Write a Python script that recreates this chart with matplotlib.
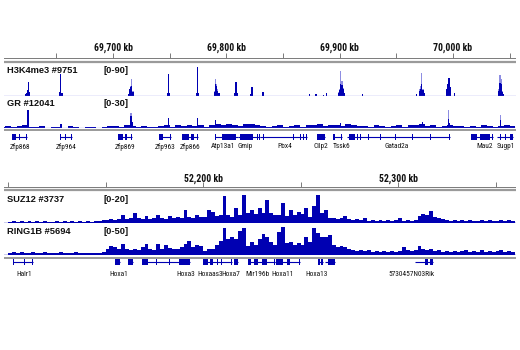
import matplotlib
matplotlib.use("Agg")
import matplotlib.pyplot as plt
from matplotlib import font_manager as fm
from matplotlib.font_manager import FontProperties

FIG_W, FIG_H = 520, 350

DARK = "#0000b2"
LIGHT = "#8e8ee2"
BASE = "#6c6ce6"
GRAY = "#9a9a9a"

SANS = ["Liberation Sans", "DejaVu Sans"]

# ---- top locus: chr (kb) ----
top_xlim = (69603.8, 70055.6)
top_ticks = [69650, 69700, 69750, 69800, 69850, 69900, 69950, 70000, 70050]
top_tick_labels = {69700: "69,700 kb", 69800: "69,800 kb", 69900: "69,900 kb", 70000: "70,000 kb"}

# H3K4me3 #9751, scale 0-90 (max = light, mean = dark)
h3_kb = [69622.5, 69623.5, 69624.5, 69625.5, 69626.5,
         69652.9, 69653.9, 69654.9,
         69713.5, 69714.5, 69715.5, 69716.5, 69717.5,
         69747.9, 69748.9, 69749.9,
         69773.7, 69774.7, 69775.7,
         69789.4, 69790.4, 69791.4, 69792.4, 69793.4,
         69807.4, 69808.4, 69809.4,
         69821.6, 69822.6,
         69832.3,
         69873.5, 69879.0, 69886.0, 69888.5,
         69899.0, 69900.0, 69901.0, 69902.0, 69903.0, 69904.0,
         69920.3, 69968.0, 69970.5,
         69971.5, 69972.5, 69973.5, 69974.5,
         69994.5, 69995.5, 69996.5, 69997.5,
         70001.5,
         70040.5, 70041.5, 70042.5, 70043.5, 70044.5]
h3_max = [6, 10, 18, 42, 12,
          12, 66, 10,
          6, 20, 30, 51, 15,
          10, 66, 8,
          10, 87, 8,
          15, 51, 35, 20, 8,
          8, 42, 10,
          6, 27,
          12,
          5, 6, 4, 8,
          12, 20, 75, 45, 25, 8,
          6, 6, 20,
          30, 69, 22, 8,
          20, 35, 54, 28,
          10,
          20, 63, 50, 14, 6]
h3_mean = [6, 10, 18, 42, 12,
           12, 66, 10,
           6, 20, 28, 30, 12,
           10, 66, 8,
           10, 87, 8,
           12, 36, 30, 16, 8,
           8, 42, 10,
           6, 27,
           12,
           5, 6, 4, 8,
           10, 18, 36, 32, 20, 8,
           6, 6, 14,
           22, 36, 18, 8,
           20, 35, 54, 28,
           10,
           16, 40, 36, 12, 6]

# GR #12041, scale 0-30
gr_kb = [69625.0, 69654.0, 69716.0, 69717.0, 69749.0, 69774.7, 69790.5,
         69901.0, 69973.3, 69996.0, 69997.0, 70042.0]
gr_max = [19, 4, 16, 6, 10, 10, 8, 5, 6, 19, 5, 13]
gr_mean = [19, 4, 12, 6, 10, 10, 8, 5, 6, 9, 5, 8]
gr_bg_start = 69600
gr_bg_step = 5
gr_bg = [1.5, 2.5, 1, 2, 3, 1.5, 1, 2,
         0.5, 1.5, 1, 0.5, 2,
         1, 0.5, 1.5, 1, 0.5, 1, 2,
         2.5, 1.5, 3, 2, 1, 2.5, 1.5, 1, 2, 3,
         1.5, 3, 2, 3.5, 2, 3, 1.5, 3.5,
         4, 3, 4.5, 3.5, 2.5, 4, 4.5, 3,
         2.5, 1.5, 2, 3, 1.5, 2, 3, 1.5, 3.5, 3,
         4, 2.5, 3.5, 3, 2, 4, 3, 2,
         2.5, 1.5, 3, 2, 1.5, 2, 3, 1.5, 3.5,
         3, 4, 2, 3.5, 1.5, 2.5, 3.5, 2,
         2, 1, 2.5, 1.5, 3, 2, 1.5, 2.5, 3.5, 2]

top_gene_names = ["Zfp868", "Zfp964", "Zfp869", "Zfp963", "Zfp866", "Atp13a1", "Gmip",
                  "Pbx4", "Cilp2", "Tssk6", "Gatad2a", "Mau2", "Sugp1"]
top_gene_start = [69610.9, 69653.2, 69704.4, 69740.6, 69760.9, 69790.0, 69810.3,
                  69829.7, 69880.0, 69894.1, 69906.5, 70015.9, 70038.8]
top_gene_end = [69624.1, 69663.8, 69716.7, 69751.2, 69775.0, 69810.3, 69829.7,
                69871.2, 69887.0, 69902.0, 69997.4, 70035.3, 70053.0]
top_gene_exons = [
    [(69610.9, 69614.4), (69616.8, 69617.6), (69623.2, 69624.1)],
    [(69653.2, 69654.1), (69658.0, 69658.9), (69662.9, 69663.8)],
    [(69704.4, 69708.8), (69711.0, 69711.9), (69715.9, 69716.7)],
    [(69740.6, 69744.1), (69750.3, 69751.2)],
    [(69760.9, 69767.0), (69768.8, 69771.5), (69774.1, 69775.0)],
    [(69790.0, 69790.9), (69796.2, 69808.5)],
    [(69812.0, 69823.5), (69827.0, 69827.9), (69828.8, 69829.7)],
    [(69832.3, 69833.2), (69858.8, 69859.7), (69865.0, 69866.0), (69867.6, 69868.5), (69870.3, 69871.2)],
    [(69880.0, 69887.0)],
    [(69894.1, 69895.9), (69900.8, 69902.0)],
    [(69908.5, 69913.5), (69915.3, 69916.2), (69917.9, 69918.8), (69925.0, 69925.9),
     (69935.6, 69936.5), (69948.8, 69949.7), (69963.8, 69964.7), (69979.7, 69980.6), (69996.5, 69997.4)],
    [(70015.9, 70021.2), (70023.8, 70032.6), (70034.4, 70035.3)],
    [(70041.5, 70042.4), (70045.9, 70046.8), (70050.3, 70053.0)],
]
top_gene_label_kb = [69617.9, 69658.5, 69710.6, 69745.9, 69767.9, 69797.0, 69816.4,
                     69851.7, 69883.5, 69902.0, 69950.6, 70028.2, 70046.8]

# ---- bottom locus (HOXA cluster) ----
bot_xlim = (52097.9, 52360.5)
bot_ticks = [52100, 52150, 52200, 52250, 52300, 52350]
bot_tick_labels = {52200: "52,200 kb", 52300: "52,300 kb"}
bin_start = 52100
bin_kb = 2

# SUZ12 #3737, scale 0-20, 2 kb bins
suz12 = [0.5, 1.5, 0.5, 1.5, 0.5, 1.5, 0.5, 1.5, 0.5, 1.5, 0.5, 0.5, 1.5, 0.5, 1.5, 0.5,
         1.5, 0.5, 1.5, 0.5, 1.5, 0.5, 1.5,
         1.5, 2, 2, 3, 2, 3, 5.5, 3, 3.5, 7, 3.5, 3, 5, 3, 3.5, 5.5, 3.5, 3, 5, 3.5, 4.5,
         3.5, 9.5, 4.5, 3.5, 5.5, 4.5,
         4.5, 9.5, 8, 5, 5.5, 19.5, 5.5, 4.5, 10.5, 5.5, 20, 7, 9.5, 6.5, 10.5, 7, 16.5,
         7, 5.5, 5.5, 14.5, 5, 9.5, 5.5, 8, 6.5, 10.5, 4.5, 12, 20, 7, 9.5,
         3.5, 3.5, 3, 3.5, 5, 3, 2, 3, 2, 3.5, 1.5, 2, 1.5, 2, 1.5, 2, 1.5, 2, 3.5, 1.5,
         2, 1.5, 2, 5, 6.5, 5.5, 8.5, 4.5, 3.5, 3, 2, 1.5, 2, 1.5, 2, 1.5, 2, 1.5, 1.5,
         2, 1.5, 2, 1.5, 1.5, 2, 1.5, 2, 1.5]

# RING1B #5694, scale 0-50, 2 kb bins
ring1b = [4, 5, 4, 5, 4, 4, 5, 4, 4, 5, 4, 4, 4, 5, 4, 4, 4, 5, 4, 4, 4, 4, 4,
          4, 5, 11, 16, 14, 11, 20, 11, 9, 11, 9, 14, 20, 11, 9, 20, 11, 18, 12, 11, 11,
          14, 20, 25, 14, 18, 16,
          7, 11, 11, 18, 25, 48, 29, 32, 29, 43, 48, 16, 23, 18, 29, 37, 32, 23, 18, 41,
          50, 21, 23, 18, 21, 18, 32, 23, 48, 39, 32, 32,
          36, 18, 14, 16, 14, 11, 9, 7, 9, 7, 9, 5, 7, 5, 7, 5, 7, 5, 7, 14, 9, 7, 9, 16,
          11, 9, 11, 7, 9, 5, 7, 5, 7, 5, 7, 9, 5, 7, 5, 9, 5, 7, 5, 7, 9, 5, 7, 5]

bot_gene_names = ["Halr1", "Hoxa1", "", "", "Hoxa3", "Hoxaas3", "Hoxa7", "Mir196b",
                  "Hoxa11", "Hoxa13", "", "5730457N03Rik"]
bot_gene_start = [52102.6, 52154.9, 52161.5, 52168.7, 52189.7, 52200.0, 52215.9, 52223.1,
                  52236.9, 52259.0, 52262.6, 52308.7]
bot_gene_end = [52112.8, 52157.4, 52164.1, 52189.7, 52193.3, 52214.9, 52217.9, 52236.9,
                52249.7, 52261.5, 52267.7, 52317.9]
bot_gene_exons = [
    [(52102.6, 52103.1), (52108.0, 52108.5), (52112.3, 52112.8)],
    [(52154.9, 52157.4)],
    [(52161.5, 52164.1)],
    [(52168.7, 52171.5), (52176.0, 52176.5), (52182.5, 52183.0), (52187.5, 52189.7)],
    [(52189.7, 52193.3)],
    [(52200.0, 52202.6), (52203.6, 52205.1), (52207.0, 52207.6), (52209.0, 52209.6), (52214.3, 52214.9)],
    [(52215.9, 52217.9)],
    [(52223.1, 52224.6), (52226.2, 52228.2), (52230.3, 52232.8), (52236.4, 52236.9)],
    [(52237.4, 52241.0), (52243.1, 52244.6), (52249.2, 52249.7)],
    [(52259.0, 52259.8), (52260.7, 52261.5)],
    [(52264.1, 52267.7)],
    [(52313.8, 52315.4), (52316.4, 52317.9)],
]
bot_gene_label_kb = [52108.2, 52157.0, 0, 0, 52191.3, 52203.6, 52214.4, 52227.7,
                     52241.0, 52258.0, 0, 52306.7]


def weight_num(w):
    if isinstance(w, int):
        return w
    return {"bold": 700, "normal": 400, "regular": 400, "medium": 500}.get(str(w).lower(), 400)


def narrow_font(bold):
    # look for a condensed sans face (like Helvetica Narrow in the IGV export)
    prefer = ["Liberation Sans Narrow", "Roboto Condensed", "Noto Sans", "Noto Sans Condensed",
              "DejaVu Sans", "Open Sans", "Open Sans Condensed"]
    want = 700 if bold else 400
    found = []
    for f in fm.fontManager.ttflist:
        if f.style != "normal" or abs(weight_num(f.weight) - want) > 50:
            continue
        cond = str(f.stretch) in ("condensed", "semi-condensed", "narrow") or "Narrow" in f.name \
            or "Condensed" in f.name
        if cond and not f.fname.lower().endswith(".otc"):
            rank = prefer.index(f.name) if f.name in prefer else len(prefer)
            semi = 1 if "semi" in str(f.stretch) or "Semi" in f.fname else 0
            found.append((rank, semi, f.fname))
    if found:
        found.sort()
        return FontProperties(fname=found[0][2]), True
    return FontProperties(family=SANS, weight="bold" if bold else "normal"), False


GENE_FONT, gene_narrow = narrow_font(False)
RULER_FONT, ruler_narrow = narrow_font(True)
GENE_SIZE = 5.3 if gene_narrow else 4.5
RULER_SIZE = 7 if ruler_narrow else 6.2


def px_axes(fig, x0, y0, x1, y1):
    ax = fig.add_axes([x0 / FIG_W, 1 - y1 / FIG_H, (x1 - x0) / FIG_W, (y1 - y0) / FIG_H])
    ax.set_axis_off()
    return ax


def fig_text(fig, x, y, s, **kw):
    fig.text(x / FIG_W, 1 - y / FIG_H, s, va="center", **kw)


def draw_ruler(fig, xlim, ticks, labels, y_label, y_tick0, y_line, y_sep):
    ax = px_axes(fig, 4, y_label - 8, 516, y_sep + 2)
    ax.set_xlim(*xlim)
    ax.set_ylim(y_sep + 2, y_label - 8)
    ax.vlines(ticks, y_tick0, y_line, color="#7a7a7a", lw=0.7)
    ax.axhline(y_line, color="#7a7a7a", lw=0.7)
    ax.axhline(y_sep, color=GRAY, lw=1.6)
    for kb, txt in labels.items():
        fp = RULER_FONT.copy()
        fp.set_size(RULER_SIZE)
        ax.text(kb, y_label, txt, ha="center", va="center", fontproperties=fp, color="#111111")


def draw_peaks(fig, xlim, y_top, y_base, vmax, kb, vmax_vals, vmean_vals, width):
    ax = px_axes(fig, 4, y_top, 516, y_base)
    ax.set_xlim(*xlim)
    ax.set_ylim(0, vmax)
    ax.axhline(0.0, color=BASE, lw=0.9)
    ax.bar(kb, vmax_vals, width=width, color=LIGHT, linewidth=0, antialiased=False)
    ax.bar(kb, vmean_vals, width=width, color=DARK, linewidth=0, antialiased=False)
    return ax


def draw_genes(fig, xlim, y0, y1, y_row, y_label, starts, ends, exons, names, label_kb):
    ax = px_axes(fig, 4, y0, 516, y1)
    ax.set_xlim(*xlim)
    ax.set_ylim(y1, y0)
    ax.hlines([y_row] * len(starts), starts, ends, color=DARK, lw=0.8)
    for ex in exons:
        for a, b in ex:
            ax.fill_between([a, b], y_row - 2.6, y_row + 2.6, color=DARK, linewidth=0)
    fp = GENE_FONT.copy()
    fp.set_size(GENE_SIZE)
    for name, kb in zip(names, label_kb):
        if name:
            ax.text(kb, y_label, name, ha="center", va="center", fontproperties=fp,
                    color="#111111", clip_on=False)


fig = plt.figure(figsize=(FIG_W / 100, FIG_H / 100), dpi=100)

# top panel
draw_ruler(fig, top_xlim, top_ticks, top_tick_labels, 48, 53.5, 58.3, 61.6)
draw_peaks(fig, top_xlim, 66, 96, 90, h3_kb, h3_max, h3_mean, 1.15)
ax_gr = draw_peaks(fig, top_xlim, 99, 128, 30, gr_kb, gr_max, gr_mean, 1.15)
gr_bg_kb = [gr_bg_start + gr_bg_step * i for i in range(len(gr_bg))]
ax_gr.bar(gr_bg_kb, gr_bg, width=gr_bg_step, align="edge", color=DARK, linewidth=0,
          antialiased=False)
sep = px_axes(fig, 4, 128, 516, 132)
sep.set_xlim(*top_xlim)
sep.set_ylim(132, 128)
sep.axhline(130.3, color=GRAY, lw=1.4)
draw_genes(fig, top_xlim, 132, 142, 137, 147, top_gene_start, top_gene_end,
           top_gene_exons, top_gene_names, top_gene_label_kb)

for y, name, rng in [(70.5, "H3K4me3 #9751", "[0-90]"), (104, "GR #12041", "[0-30]")]:
    fig_text(fig, 7, y, name, fontsize=6.7, fontweight="bold", family=SANS, color="#111111")
    fig_text(fig, 104, y, rng, fontsize=6.7, fontweight="bold", family=SANS, color="#111111")

# bottom panel
draw_ruler(fig, bot_xlim, bot_ticks, bot_tick_labels, 179, 182, 187, 190)
bins = [bin_start + bin_kb * i for i in range(len(suz12))]
ax_s = px_axes(fig, 4, 195, 516, 223)
ax_s.set_xlim(*bot_xlim)
ax_s.set_ylim(0, 20)
ax_s.bar(bins, suz12, width=bin_kb, align="edge", color=DARK, linewidth=0, antialiased=False)
ax_s.axhline(0.0, color=DARK, lw=1.0)
ax_r = px_axes(fig, 4, 227, 516, 255)
ax_r.set_xlim(*bot_xlim)
ax_r.set_ylim(0, 50)
ax_r.bar(bins, ring1b, width=bin_kb, align="edge", color=DARK, linewidth=0, antialiased=False)
ax_r.axhline(0.0, color=DARK, lw=1.0)
sep2 = px_axes(fig, 4, 255, 516, 260)
sep2.set_xlim(*bot_xlim)
sep2.set_ylim(260, 255)
sep2.axhline(257.8, color=GRAY, lw=1.4)
draw_genes(fig, bot_xlim, 258, 267, 262, 274, bot_gene_start, bot_gene_end,
           bot_gene_exons, bot_gene_names, bot_gene_label_kb)

for y, name, rng in [(200, "SUZ12 #3737", "[0-20]"), (231.5, "RING1B #5694", "[0-50]")]:
    fig_text(fig, 7, y, name, fontsize=6.7, fontweight="bold", family=SANS, color="#111111")
    fig_text(fig, 104, y, rng, fontsize=6.7, fontweight="bold", family=SANS, color="#111111")

fig.savefig("out.png", dpi=100)
plt.close(fig)
